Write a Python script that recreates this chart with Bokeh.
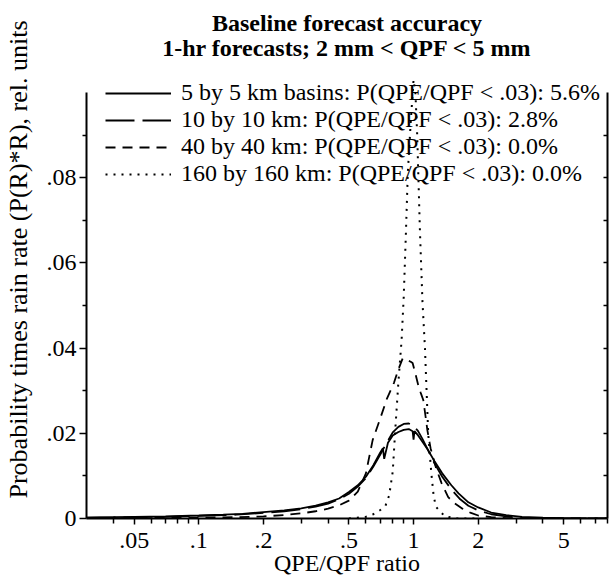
import math
from bokeh.plotting import figure
from bokeh.models import (Range1d, FixedTicker, CustomJSTickFormatter, LinearAxis,
                          Legend, LegendItem, Label)
from bokeh.embed import file_html
from bokeh.resources import INLINE

FONT = "Liberation Serif, Times New Roman, serif"

# ---- data ----
x_5km = [0.03, 0.04, 0.05, 0.07, 0.1, 0.13, 0.16, 0.2, 0.25, 0.3, 0.35, 0.4, 0.45, 0.5,
         0.55, 0.6, 0.65, 0.7, 0.72, 0.73, 0.76, 0.8, 0.85, 0.9, 0.95, 0.99, 1.0, 1.01,
         1.05, 1.1, 1.17, 1.25, 1.36, 1.5, 1.62, 1.8, 2.0, 2.3, 2.7, 3.2, 4.0, 5.0, 6.0, 8.0]
y_5km = [0.0002, 0.0003, 0.0004, 0.0005, 0.0007, 0.0009, 0.0011, 0.0015, 0.0019, 0.0024,
         0.003, 0.0038, 0.0047, 0.0062, 0.0078, 0.0098, 0.0125, 0.0155, 0.0165, 0.014,
         0.0178, 0.0195, 0.0203, 0.0208, 0.021, 0.0205, 0.0185, 0.0205, 0.0195, 0.018,
         0.016, 0.0135, 0.0106, 0.0078, 0.0059, 0.0038, 0.0026, 0.0014, 0.0008, 0.0004,
         0.0002, 0.0001, 0.00005, 0.0]

x_10km = [0.03, 0.05, 0.07, 0.1, 0.15, 0.2, 0.25, 0.3, 0.35, 0.4, 0.45, 0.5, 0.55, 0.6,
          0.65, 0.7, 0.75, 0.8, 0.85, 0.9, 0.95, 1.0, 1.05, 1.1, 1.17, 1.25, 1.36, 1.5,
          1.65, 1.8, 2.0, 2.3, 2.7, 3.2, 4.0, 5.0, 8.0]
y_10km = [0.0002, 0.0003, 0.0004, 0.0006, 0.0009, 0.0013, 0.0017, 0.0022, 0.0028, 0.0035,
          0.0045, 0.0058, 0.0075, 0.0095, 0.0122, 0.015, 0.0178, 0.0202, 0.0215, 0.0222,
          0.0223, 0.0218, 0.0205, 0.0187, 0.016, 0.013, 0.0098, 0.0068, 0.0045, 0.003,
          0.0019, 0.001, 0.0005, 0.0002, 0.0001, 0.00005, 0.0]

x_40km = [0.03, 0.05, 0.1, 0.15, 0.2, 0.25, 0.3, 0.35, 0.4, 0.45, 0.5, 0.55, 0.6, 0.645,
          0.7, 0.75, 0.81, 0.85, 0.89, 0.93, 0.97, 0.99, 1.02, 1.055, 1.08, 1.11, 1.13,
          1.16, 1.2, 1.27, 1.35, 1.45, 1.55, 1.69, 1.85, 2.0, 2.3, 2.7, 3.5, 5.0, 8.0]
y_40km = [0.0, 0.0001, 0.0002, 0.0003, 0.0005, 0.0008, 0.0012, 0.0017, 0.0023, 0.0031,
          0.0042, 0.0063, 0.0106, 0.0184, 0.0235, 0.028, 0.0318, 0.035, 0.0376, 0.0372,
          0.0368, 0.0365, 0.034, 0.031, 0.0295, 0.0278, 0.025, 0.0207, 0.0165, 0.012,
          0.0083, 0.005, 0.0036, 0.0023, 0.0013, 0.0007, 0.0003, 0.0001, 0.0, 0.0, 0.0]

x_160km = [0.5, 0.6, 0.65, 0.7, 0.74, 0.77, 0.8, 0.82, 0.85, 0.88, 0.9, 0.92, 0.94, 0.97,
           1.0, 1.02, 1.04, 1.07, 1.1, 1.13, 1.17, 1.21, 1.24, 1.27, 1.31, 1.4, 1.6, 2.0]
y_160km = [0.0, 0.0004, 0.001, 0.002, 0.003, 0.0054, 0.011, 0.020, 0.032, 0.042, 0.052,
           0.066, 0.081, 0.093, 0.103, 0.1, 0.09, 0.068, 0.051, 0.04, 0.02, 0.0106,
           0.0054, 0.0028, 0.002, 0.0005, 0.0, 0.0]

labels = ["5 by 5 km basins: P(QPE/QPF < .03): 5.6%",
          "10 by 10 km: P(QPE/QPF < .03): 2.8%",
          "40 by 40 km: P(QPE/QPF < .03): 0.0%",
          "160 by 160 km: P(QPE/QPF < .03): 0.0%"]

x_major = [0.05, 0.1, 0.2, 0.5, 1, 2, 5]
x_minor = [0.04, 0.06, 0.07, 0.08, 0.09, 0.3, 0.4, 0.6, 0.7, 0.8, 0.9, 3, 4, 6, 7, 8]
y_major = [0, 0.02, 0.04, 0.06, 0.08]
y_minor = [0.01, 0.03, 0.05, 0.07, 0.09]
y_right = [0.01, 0.02, 0.03, 0.04, 0.05, 0.06, 0.07, 0.08, 0.09]

title1 = "Baseline forecast accuracy"
title2 = "1-hr forecasts; 2 mm < QPF < 5 mm"
xlabel = "QPE/QPF ratio"
ylabel = "Probability times rain rate (P(R)*R), rel. units"

# ---- layout geometry (pixels) ----
W, H = 612, 576
LEFT, RIGHT, BOTTOM = 83, 8, 58
FW, FH = W - LEFT - RIGHT, H - BOTTOM          # frame reaches the top of the canvas
AXIS_TOP_PX = 92                               # where the drawn axes stop (y = 0.1)
X_MIN, X_MAX = 0.03, 8.0
Y_AXIS_MAX = 0.1
PX_PER_UNIT = (FH - AXIS_TOP_PX) / Y_AXIS_MAX
Y_TOP = FH / PX_PER_UNIT                       # data value at canvas top

def y_at_px(py):
    """data y for a pixel row measured from the top of the canvas"""
    return (FH - py) / PX_PER_UNIT

p = figure(x_axis_type="log", x_range=Range1d(X_MIN, X_MAX), y_range=Range1d(0, Y_TOP),
           frame_width=FW, frame_height=FH, title=None,
           min_border_left=LEFT, min_border_right=RIGHT, min_border_top=0,
           min_border_bottom=BOTTOM,
           output_backend="svg", toolbar_location=None, background_fill_color="white",
           border_fill_color="white")
p.outline_line_color = None
p.grid.visible = False

fmt = CustomJSTickFormatter(code="""
    const s = String(Number(tick.toFixed(4)));
    return s.startsWith("0.") ? s.slice(1) : s;
""")

def style_axis(ax):
    ax.axis_line_width = 2
    ax.axis_line_color = "black"
    ax.major_tick_line_width = 1.5
    ax.minor_tick_line_width = 1.5
    ax.major_tick_line_color = "black"
    ax.minor_tick_line_color = "black"
    ax.major_label_text_font = FONT
    ax.major_label_text_font_size = "24px"
    ax.major_label_text_color = "black"
    ax.axis_label_text_font = FONT
    ax.axis_label_text_font_size = "24px"
    ax.axis_label_text_font_style = "normal"
    ax.axis_label_text_color = "black"

xa = p.xaxis[0]
xa.ticker = FixedTicker(ticks=x_major, minor_ticks=x_minor)
xa.formatter = fmt
xa.axis_label = xlabel
xa.major_tick_in = 0
xa.major_tick_out = 6
xa.minor_tick_in = 0
xa.minor_tick_out = 5
xa.major_label_standoff = 8
xa.axis_label_standoff = -1
style_axis(xa)

ya = p.yaxis[0]
ya.ticker = FixedTicker(ticks=y_major, minor_ticks=y_minor)
ya.formatter = fmt
ya.axis_label = ylabel
ya.bounds = (0, Y_AXIS_MAX)
ya.major_tick_in = 0
ya.major_tick_out = 7
ya.minor_tick_in = 0
ya.minor_tick_out = 4
ya.major_label_standoff = 3
ya.axis_label_standoff = 11
style_axis(ya)
ya.axis_label_text_font_size = "26px"

ra = LinearAxis(ticker=FixedTicker(ticks=y_right, minor_ticks=[]),
                formatter=CustomJSTickFormatter(code="return ''"))
ra.bounds = (0, Y_AXIS_MAX)
ra.major_tick_in = 4
ra.major_tick_out = 0
ra.minor_tick_in = 0
ra.minor_tick_out = 0
ra.major_label_standoff = 0
style_axis(ra)
ra.major_label_text_font_size = "1px"
p.add_layout(ra, "right")

# ---- curves ----
r1 = p.line(x_5km, y_5km, line_color="black", line_width=1.8)
r2 = p.line(x_10km, y_10km, line_color="black", line_width=1.8, line_dash="29 8")
r3 = p.line(x_40km, y_40km, line_color="black", line_width=1.8, line_dash="10 7")
r4 = p.line(x_160km, y_160km, line_color="black", line_width=2, line_dash="2 6")

legend = Legend(items=[LegendItem(label=labels[0], renderers=[r1]),
                       LegendItem(label=labels[1], renderers=[r2]),
                       LegendItem(label=labels[2], renderers=[r3]),
                       LegendItem(label=labels[3], renderers=[r4])],
                location=(19, FH - 187))
legend.padding = 0
legend.margin = 0
legend.spacing = -2
legend.glyph_width = 66
legend.glyph_height = 24
legend.label_height = 24
legend.label_standoff = 10
legend.label_text_font = FONT
legend.label_text_font_size = "24px"
legend.label_text_color = "black"
legend.border_line_alpha = 0
legend.background_fill_alpha = 0
p.add_layout(legend, "center")

# ---- two-line bold title at the top of the canvas, centred over the axes ----
x_mid = (X_MIN * X_MAX) ** 0.5
for txt, py in ((title1, 22), (title2, 47)):
    p.add_layout(Label(x=x_mid, y=y_at_px(py), text=txt, text_align="center",
                       text_baseline="middle", text_font=FONT, text_font_size="24px",
                       text_font_style="bold", text_color="black"))

open("out.html", "w").write(file_html(p, INLINE))
